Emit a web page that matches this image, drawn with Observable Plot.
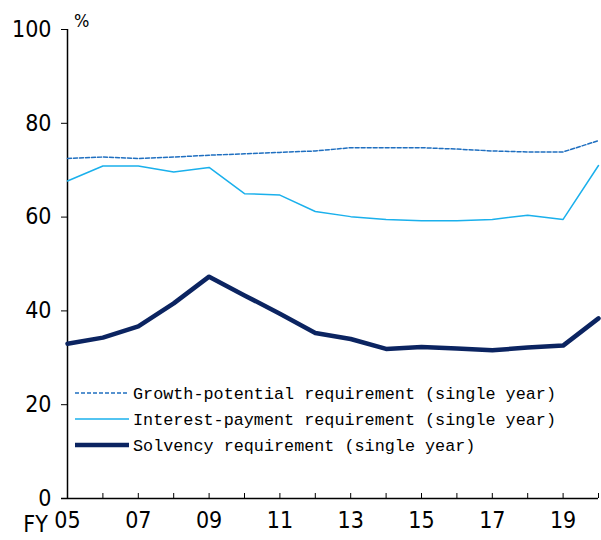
<!DOCTYPE html>
<html><head><meta charset="utf-8">
<script src="https://cdn.jsdelivr.net/npm/d3@7"></script>
<script src="https://cdn.jsdelivr.net/npm/@observablehq/plot@0.6"></script>
<style>body{margin:0;background:#fff}#c{position:relative;width:601px;height:540px}
svg text{font-stretch:condensed}</style>
</head><body><div id="c"></div>
<script>
const years = d3.range(2005, 2021);
const growth = [72.5,72.8,72.5,72.8,73.2,73.5,73.8,74.1,74.8,74.8,74.8,74.5,74.1,73.9,73.9,76.3];
const interest = [67.7,70.9,70.9,69.6,70.6,65.0,64.7,61.2,60.1,59.5,59.2,59.2,59.5,60.4,59.5,71.0];
const solvency = [33.0,34.3,36.7,41.6,47.3,43.3,39.4,35.3,34.0,31.9,32.3,32.0,31.6,32.2,32.6,38.4];
const seriesNames = ["Growth-potential requirement (single year)","Interest-payment requirement (single year)","Solvency requirement (single year)"];
const colors = ["#1f6fc0","#1ab0ec","#0b2461"];
const widths = [1.5,1.5,4.5];
const dashes = ["4,2",null,null];
const yTicks = [0,20,40,60,80,100];
const labelYears = [2005,2007,2009,2011,2013,2015,2017,2019];

const rows = [];
[growth, interest, solvency].forEach((arr, s) => arr.forEach((v, i) => rows.push({year: years[i], value: v, s})));

const tickFont = "'DejaVu Sans Condensed','DejaVu Sans',sans-serif";
const plot = Plot.plot({
  width: 601, height: 540,
  marginLeft: 67, marginRight: 3, marginTop: 29, marginBottom: 42,
  style: {fontFamily: tickFont, background: "#fff", overflow: "visible"},
  x: {domain: [2005, 2020]},
  y: {domain: [0, 100]},
  marks: [
    Plot.axisY({ticks: yTicks, tickSize: 6, tickPadding: 10, fontSize: 23, stroke: "#000", label: null, color: "#000"}),
    Plot.axisX({ticks: years, tickSize: -5, tickFormat: () => "", label: null, stroke: "#000"}),
    Plot.axisX({ticks: labelYears, tickSize: 0, tickPadding: 13, fontSize: 23, tickFormat: d => String(d % 100).padStart(2, "0"), label: null, color: "#000"}),
    Plot.text(["FY"], {x: () => 2005, y: () => 0, dy: 26, dx: -32, fontSize: 23, fill: "#000", lineAnchor: "middle"}),
    Plot.ruleX([2005], {stroke: "#000", strokeWidth: 1.5}),
    Plot.ruleY([0], {stroke: "#000", strokeWidth: 1.5, insetLeft: -6}),
    ...[0,1,2].map(s => Plot.line(rows.filter(r => r.s === s), {x: "year", y: "value", stroke: colors[s], strokeWidth: widths[s], strokeDasharray: dashes[s], strokeLinejoin: "round"}))
  ]
});
document.getElementById("c").appendChild(plot);

const svg = d3.select(plot);
svg.append("text").attr("x", 74).attr("y", 27).attr("text-anchor", "start").attr("font-size", 18).attr("font-family", tickFont).text("%");
const lg = svg.append("g").attr("text-anchor", "start");
seriesNames.forEach((name, s) => {
  const y = 393 + s * 26;
  lg.append("line").attr("x1", 75).attr("x2", 129).attr("y1", y).attr("y2", y)
    .attr("stroke", colors[s]).attr("stroke-width", widths[s]).attr("stroke-dasharray", dashes[s]);
  lg.append("text").attr("x", 133).attr("y", y).attr("dy", "0.35em").attr("text-anchor", "start")
    .attr("font-family", "'Liberation Mono','DejaVu Sans Mono',monospace").attr("font-size", 16.8).attr("fill", "#000").text(name);
});
</script></body></html>
